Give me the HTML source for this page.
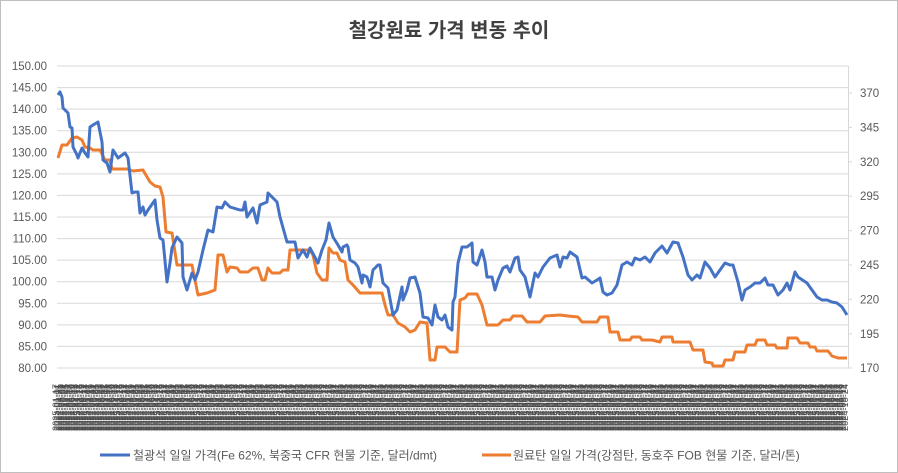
<!DOCTYPE html>
<html><head><meta charset="utf-8"><style>
html,body{margin:0;padding:0;background:#fff}
svg{display:block}
text{font-family:"Liberation Sans","Noto Sans CJK KR",sans-serif}
</style></head><body>
<svg width="898" height="473" viewBox="0 0 898 473" xmlns="http://www.w3.org/2000/svg">
<rect x="0.5" y="0.5" width="897" height="472" fill="#fff" stroke="#bfbfbf"/>
<text x="449" y="37" text-anchor="middle" font-size="20" font-weight="bold" fill="#404040" style="font-family:'Liberation Sans','Noto Sans CJK KR',sans-serif">철강원료 가격 변동 추이</text>
<g stroke="#d9d9d9" stroke-width="1">
<line x1="57" x2="848" y1="66" y2="66"/><line x1="57" x2="848" y1="87.6" y2="87.6"/><line x1="57" x2="848" y1="109.1" y2="109.1"/><line x1="57" x2="848" y1="130.7" y2="130.7"/><line x1="57" x2="848" y1="152.3" y2="152.3"/><line x1="57" x2="848" y1="173.9" y2="173.9"/><line x1="57" x2="848" y1="195.4" y2="195.4"/><line x1="57" x2="848" y1="217" y2="217"/><line x1="57" x2="848" y1="238.6" y2="238.6"/><line x1="57" x2="848" y1="260.1" y2="260.1"/><line x1="57" x2="848" y1="281.7" y2="281.7"/><line x1="57" x2="848" y1="303.3" y2="303.3"/><line x1="57" x2="848" y1="324.9" y2="324.9"/><line x1="57" x2="848" y1="346.4" y2="346.4"/><line x1="57" x2="848" y1="368" y2="368"/>
<line x1="848.5" x2="848.5" y1="66" y2="368"/>
<line x1="848" x2="852" y1="93" y2="93"/><line x1="848" x2="852" y1="127.4" y2="127.4"/><line x1="848" x2="852" y1="161.8" y2="161.8"/><line x1="848" x2="852" y1="196.2" y2="196.2"/><line x1="848" x2="852" y1="230.6" y2="230.6"/><line x1="848" x2="852" y1="265" y2="265"/><line x1="848" x2="852" y1="299.4" y2="299.4"/><line x1="848" x2="852" y1="333.8" y2="333.8"/><line x1="848" x2="852" y1="368" y2="368"/>
</g>
<g font-size="11.5" fill="#595959" text-anchor="end">
<text x="47" y="70">150.00</text><text x="47" y="91.6">145.00</text><text x="47" y="113.1">140.00</text><text x="47" y="134.7">135.00</text><text x="47" y="156.3">130.00</text><text x="47" y="177.9">125.00</text><text x="47" y="199.4">120.00</text><text x="47" y="221">115.00</text><text x="47" y="242.6">110.00</text><text x="47" y="264.1">105.00</text><text x="47" y="285.7">100.00</text><text x="47" y="307.3">95.00</text><text x="47" y="328.9">90.00</text><text x="47" y="350.4">85.00</text><text x="47" y="372">80.00</text>
</g>
<g font-size="11.5" fill="#595959">
<text x="860" y="97">370</text><text x="860" y="131.4">345</text><text x="860" y="165.8">320</text><text x="860" y="200.2">295</text><text x="860" y="234.6">270</text><text x="860" y="269">245</text><text x="860" y="303.4">220</text><text x="860" y="337.8">195</text><text x="860" y="372">170</text>
</g>
<g id="xl" font-size="9.2" fill="#4a4a4a"></g>
<polyline fill="none" stroke="#ed7d31" stroke-width="3" stroke-linejoin="round" points="58,158 62,145 67,145 72,138 77,137 82,140 85,147 90,148 93,150 100,150 105,160 110,160 112,169 127,169 133,171 143,170 150,182 155,186 160,187 163,197 166,232 172,233 177,265 192,265 195,280 198,295 207,293 215,290 218,255 223,255 227,272 230,267 237,268 240,272 248,272 253,268 258,268 262,280 265,280 268,268 272,273 280,273 283,270 288,270 290,250 310,250 313,255 317,273 322,280 327,280 329,248 333,253 337,253 340,260 345,262 348,280 353,285 360,293 382,293 385,305 388,315 393,315 398,323 405,327 410,332 415,330 420,322 427,323 430,360 435,360 437,347 445,347 450,352 457,352 460,300 465,298 468,294 477,294 482,305 487,325 498,325 503,320 510,320 513,316 522,316 527,322 540,322 545,316 560,315 568,316 578,317 582,322 597,322 600,317 608,317 610,332 618,332 620,340 630,340 632,337 640,337 642,340 652,340 660,342 662,337 672,337 673,342 690,342 693,350 703,350 705,362 712,363 713,366 723,366 725,360 733,360 735,352 745,352 747,345 755,345 757,340 765,340 767,345 775,345 777,348 787,348 788,338 797,338 800,343 808,343 810,347 815,347 817,351 828,351 832,356 838,358 847,358"/>
<polyline fill="none" stroke="#4472c4" stroke-width="3" stroke-linejoin="round" points="58,95 60,92 62,97 63,108 68,113 70,127 72,128 73,147 77,155 78,158 82,148 85,153 88,157 90,127 93,125 98,122 102,142 103,160 107,163 110,172 113,150 118,158 125,153 128,158 132,193 135,192 138,192 140,213 143,207 145,215 148,210 155,200 157,220 160,238 163,240 167,282 170,263 172,248 177,237 182,243 183,277 187,290 192,273 195,280 198,272 203,250 208,230 213,232 217,207 222,208 225,202 230,207 240,210 243,210 245,202 247,217 253,208 257,223 260,205 267,202 268,193 273,198 277,202 280,217 287,242 295,242 298,258 303,250 307,257 310,248 318,263 322,250 326,240 329,223 333,237 338,245 342,252 343,247 347,245 348,247 350,260 355,263 358,267 362,283 363,275 367,277 370,287 373,270 378,265 380,265 383,283 388,288 393,315 397,310 402,287 403,300 407,290 410,278 415,277 420,293 423,317 428,318 432,325 435,305 438,317 442,320 445,315 448,327 452,330 453,302 455,297 458,263 462,247 467,247 472,243 473,262 477,265 482,250 485,262 487,277 492,277 495,290 498,280 503,268 507,266 510,272 515,258 518,257 520,270 525,277 530,297 535,273 538,277 543,267 550,258 557,255 560,267 563,257 567,258 570,252 577,257 582,278 585,277 592,283 597,280 600,278 603,292 607,295 612,293 617,285 622,265 627,262 632,265 635,258 640,260 645,257 650,262 655,253 662,246 667,253 673,242 678,243 683,257 688,275 692,280 697,275 700,278 705,262 710,268 715,277 720,270 725,263 730,265 733,265 738,282 742,300 745,290 750,287 755,283 760,283 765,278 768,285 773,285 778,295 783,290 787,283 790,290 795,272 798,277 807,283 817,297 822,300 827,300 832,302 837,303 842,307 847,315"/>
<line x1="100" x2="130" y1="455" y2="455" stroke="#4472c4" stroke-width="3"/>
<text x="133" y="459.5" font-size="12" fill="#595959">철광석 일일 가격(Fe 62%, 북중국 CFR 현물 기준, 달러/dmt)</text>
<line x1="482" x2="511" y1="455" y2="455" stroke="#ed7d31" stroke-width="3"/>
<text x="513" y="459.5" font-size="12" fill="#595959">원료탄 일일 가격(강점탄, 동호주 FOB 현물 기준, 달러/톤)</text>
</svg>
<script>
(function(){var g=document.getElementById('xl');var s='';var ds=['2024-01-01','2024-02-13','2024-03-25','2024-05-08','2024-06-19','2024-08-01','2024-09-12','2024-10-24','2024-12-05','2025-01-17'];
for(var x=59;x<=848;x+=1.6){var d=ds[Math.floor(x)%10];s+='<text transform="translate('+x.toFixed(1)+',431) rotate(-90)">'+d+'</text>';}
g.innerHTML=s;})();
</script>
</body></html>
